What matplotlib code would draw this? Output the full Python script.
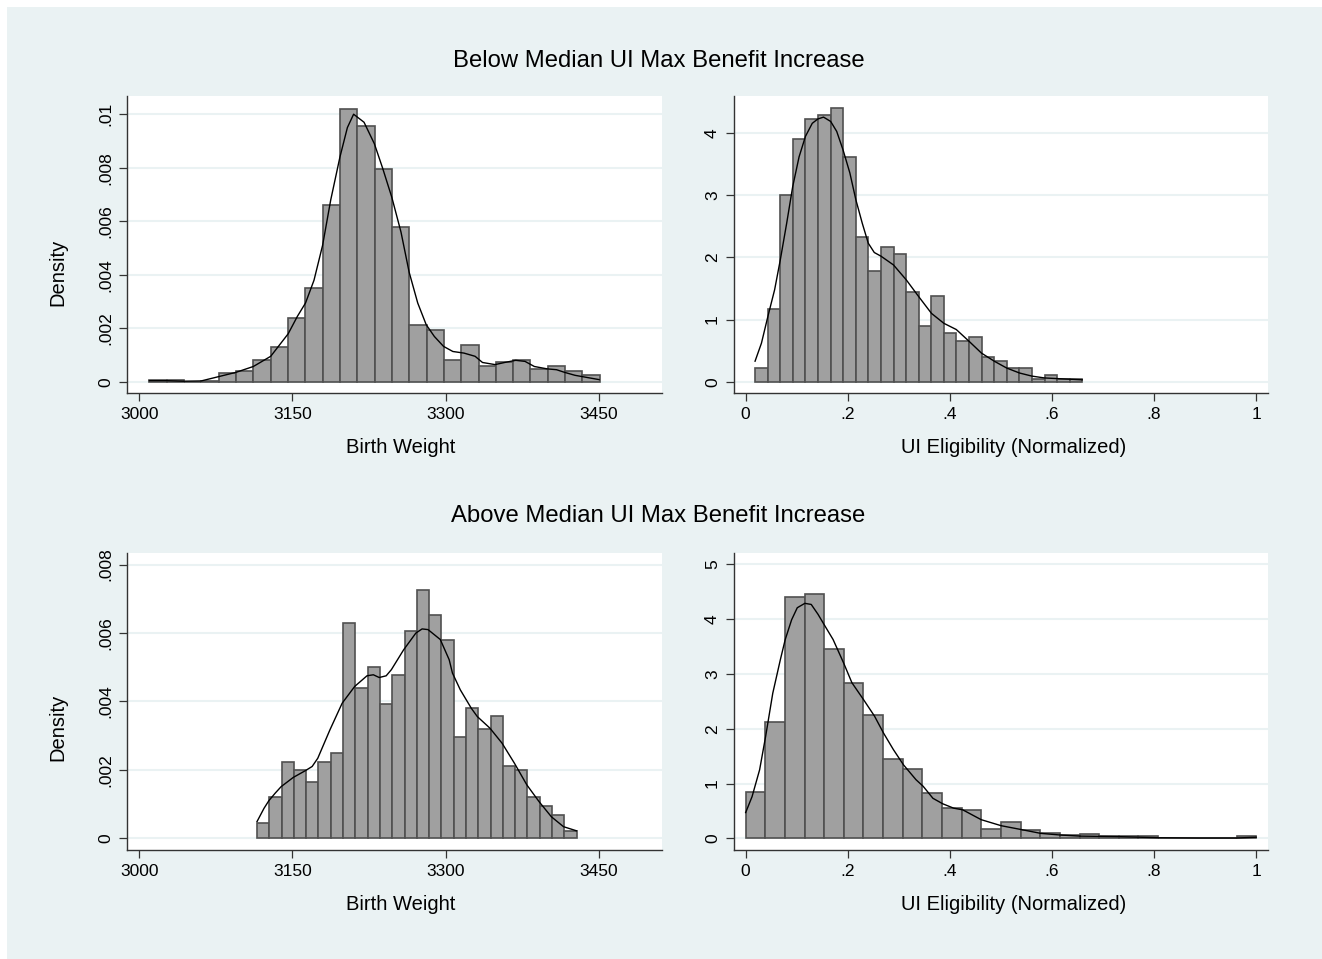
import matplotlib.pyplot as plt
from matplotlib.patches import Rectangle

plt.rcParams['font.family'] = ['Liberation Sans', 'DejaVu Sans']

# --- Below median: birth weight ---
bw_lo_start = 3009.8
bw_lo_width = 16.97
bw_lo_heights = [0.00006, 0.00006, 0.0, 0.00005, 0.00035, 0.0004, 0.00082, 0.0013,
                 0.00238, 0.0035, 0.0066, 0.0102, 0.00957, 0.00796, 0.00577, 0.00213,
                 0.00195, 0.00082, 0.00138, 0.0006, 0.00073, 0.00082, 0.00049, 0.0006,
                 0.0004, 0.00025]
bw_lo_kde_x = [3009.8, 3026.5, 3043.1, 3060.6, 3077.6, 3094.6, 3111.7, 3128.7, 3145.8,
               3154.8, 3162.8, 3171.1, 3179.5, 3187.5, 3196.5, 3203.8, 3209.9, 3220.1,
               3230.2, 3238.2, 3247.3, 3256.3, 3264.3, 3272.7, 3281.0, 3289.0, 3298.0,
               3307.1, 3318.0, 3328.9, 3336.1, 3348.4, 3357.9, 3368.7, 3377.8, 3386.9,
               3399.6, 3408.6, 3416.6, 3426.8, 3450.3]
bw_lo_kde_y = [0.00005, 0.00005, 0.00003, 0.00004, 0.0002, 0.00036, 0.00058, 0.00096,
               0.0018, 0.00245, 0.00295, 0.0038, 0.0051, 0.0068, 0.0084, 0.0095, 0.0100,
               0.0097, 0.0089, 0.0080, 0.0069, 0.0056, 0.0041, 0.00295, 0.00214, 0.0017,
               0.00133, 0.00114, 0.00108, 0.00096, 0.00073, 0.00065, 0.00073, 0.00081,
               0.00077, 0.00058, 0.00049, 0.00046, 0.00036, 0.00025, 0.00009]

# --- Below median: UI eligibility ---
ui_lo_start = 0.0184
ui_lo_width = 0.02465
ui_lo_heights = [0.22, 1.17, 3.01, 3.90, 4.23, 4.30, 4.40, 3.61, 2.33, 1.79, 2.17, 2.06,
                 1.45, 0.89, 1.38, 0.78, 0.66, 0.72, 0.39, 0.33, 0.22, 0.22, 0.04, 0.10,
                 0.05, 0.05]
ui_lo_kde_x = [0.0184, 0.0309, 0.0435, 0.0567, 0.0678, 0.0803, 0.0921, 0.1046, 0.1171,
               0.1304, 0.1414, 0.1525, 0.1665, 0.1783, 0.1908, 0.2041, 0.2158, 0.2284,
               0.2401, 0.2519, 0.2652, 0.2895, 0.3145, 0.3389, 0.3639, 0.3882, 0.4125,
               0.4376, 0.4619, 0.4869, 0.5112, 0.5363, 0.5606, 0.5856, 0.6099, 0.6350,
               0.6593]
ui_lo_kde_y = [0.33, 0.62, 1.05, 1.48, 1.96, 2.55, 3.14, 3.62, 3.95, 4.16, 4.23, 4.26,
               4.19, 4.03, 3.73, 3.36, 2.93, 2.55, 2.23, 2.08, 2.02, 1.88, 1.64, 1.37,
               1.10, 0.94, 0.84, 0.65, 0.46, 0.33, 0.22, 0.14, 0.09, 0.06, 0.05, 0.04,
               0.03]

# --- Above median: birth weight ---
bw_hi_start = 3115.3
bw_hi_width = 12.04
bw_hi_heights = [0.00046, 0.0012, 0.00224, 0.00201, 0.00166, 0.00224, 0.0025, 0.0063,
                 0.00438, 0.0050, 0.00392, 0.00476, 0.00607, 0.00725, 0.00652, 0.00581,
                 0.00296, 0.0038, 0.0032, 0.00357, 0.00212, 0.00201, 0.0012, 0.00094,
                 0.00069, 0.00022]
bw_hi_kde_x = [3115.3, 3122.2, 3126.9, 3133.1, 3138.9, 3150.8, 3162.8, 3169.3, 3174.8,
               3186.7, 3198.7, 3211.0, 3223.0, 3229.2, 3235.0, 3241.8, 3246.9, 3258.9,
               3270.9, 3277.0, 3282.8, 3294.8, 3303.5, 3306.7, 3314.4, 3325.2, 3331.0,
               3343.4, 3355.3, 3367.3, 3379.6, 3391.6, 3403.6, 3415.5, 3428.2]
bw_hi_kde_y = [0.00049, 0.00088, 0.0011, 0.00132, 0.00151, 0.00178, 0.00198, 0.0021,
               0.00234, 0.00317, 0.00395, 0.00444, 0.00475, 0.00478, 0.0047, 0.00475,
               0.00493, 0.00551, 0.006, 0.00612, 0.0061, 0.00581, 0.00522, 0.00483,
               0.00434, 0.0038, 0.00356, 0.00322, 0.00278, 0.0022, 0.00156, 0.00107,
               0.00063, 0.00034, 0.00022]

# --- Above median: UI eligibility ---
ui_hi_start = 0.0
ui_hi_width = 1 / 26
ui_hi_heights = [0.84, 2.12, 4.41, 4.46, 3.46, 2.83, 2.26, 1.445, 1.26, 0.82, 0.56, 0.51,
                 0.17, 0.29, 0.15, 0.10, 0.06, 0.07, 0.04, 0.05, 0.035, 0.01, 0.004,
                 0.004, 0.004, 0.035]
ui_hi_kde_x = [0.0, 0.0125, 0.0273, 0.0391, 0.0531, 0.0679, 0.0775, 0.0900, 0.1011,
               0.1159, 0.1284, 0.1417, 0.1557, 0.1712, 0.1919, 0.2081, 0.2310, 0.2524,
               0.2701, 0.2893, 0.3092, 0.3336, 0.3476, 0.3668, 0.3860, 0.4074, 0.4251,
               0.4613, 0.5004, 0.5395, 0.5779, 0.6162, 0.6546, 0.6937, 0.7321, 0.7705,
               0.8089, 0.8871, 0.9609, 1.0]
ui_hi_kde_y = [0.47, 0.76, 1.25, 1.86, 2.65, 3.26, 3.63, 3.99, 4.21, 4.29, 4.27, 4.09,
               3.87, 3.63, 3.2, 2.84, 2.53, 2.23, 1.92, 1.62, 1.34, 1.07, 0.95, 0.73,
               0.63, 0.55, 0.52, 0.34, 0.23, 0.16, 0.09, 0.06, 0.04, 0.035, 0.03, 0.02,
               0.01, 0.005, 0.005, 0.02]

bw_ticks = [3000, 3150, 3300, 3450]
bw_ticklabels = ['3000', '3150', '3300', '3450']
ui_ticks = [0, 0.2, 0.4, 0.6, 0.8, 1]
ui_ticklabels = ['0', '.2', '.4', '.6', '.8', '1']
dens_lo_ticks = [0, 0.002, 0.004, 0.006, 0.008, 0.01]
dens_lo_labels = ['0', '.002', '.004', '.006', '.008', '.01']
dens_hi_ticks = [0, 0.002, 0.004, 0.006, 0.008]
dens_hi_labels = ['0', '.002', '.004', '.006', '.008']
ui_lo_yticks = [0, 1, 2, 3, 4]
ui_hi_yticks = [0, 1, 2, 3, 4, 5]

BG = '#EAF2F3'
BAR = '#A0A0A0'
EDGE = '#505050'


def panel(ax, start, width, heights, kx, ky, xlim, ylim, xt, xtl, yt, ytl,
          xlabel, xlab_x, ylabel=None, ylab_y=0.41):
    ax.set_facecolor('white')
    lefts = [start + i * width for i in range(len(heights))]
    ax.bar(lefts, heights, width=width, align='edge', color=BAR,
           edgecolor=EDGE, linewidth=1.2, zorder=2)
    ax.plot(kx, ky, color='black', linewidth=1.0, zorder=3)
    ax.set_xlim(*xlim)
    ax.set_ylim(*ylim)
    ax.set_xticks(xt)
    ax.set_xticklabels(xtl)
    ax.set_yticks(yt)
    ax.set_yticklabels(ytl, rotation=90, va='center')
    ax.yaxis.grid(True, color=BG, linewidth=1.5, zorder=0)
    ax.set_axisbelow(True)
    for s in ['top', 'right']:
        ax.spines[s].set_visible(False)
    for s in ['left', 'bottom']:
        ax.spines[s].set_color('#333333')
        ax.spines[s].set_linewidth(1.0)
    ax.tick_params(length=6, width=0.9, color='#333333', labelsize=12.5, pad=4)
    ax.set_xlabel(xlabel, fontsize=14.5)
    ax.xaxis.label.set_verticalalignment('center')
    ax.xaxis.set_label_coords(xlab_x, -0.182)
    if ylabel:
        ax.set_ylabel(ylabel, fontsize=14.5)
        ax.yaxis.label.set_verticalalignment('center')
        ax.yaxis.set_label_coords(-0.129, ylab_y)


fig = plt.figure(figsize=(13.22, 9.59), dpi=100)
fig.patch.set_facecolor('white')
fig.patches.append(Rectangle((7 / 1322, 0), 1, 1 - 7 / 959, transform=fig.transFigure,
                             facecolor=BG, edgecolor='none', zorder=-10))

ax1 = fig.add_axes([0.0961, 0.5902, 0.4047, 0.3097])
ax2 = fig.add_axes([0.5552, 0.5902, 0.4039, 0.3097])
ax3 = fig.add_axes([0.0961, 0.1137, 0.4047, 0.3097])
ax4 = fig.add_axes([0.5552, 0.1137, 0.4039, 0.3097])

panel(ax1, bw_lo_start, bw_lo_width, bw_lo_heights, bw_lo_kde_x, bw_lo_kde_y,
      (2988, 3512), (-0.00041, 0.01068), bw_ticks, bw_ticklabels,
      dens_lo_ticks, dens_lo_labels, 'Birth Weight', 0.512, 'Density', 0.406)
panel(ax2, ui_lo_start, ui_lo_width, ui_lo_heights, ui_lo_kde_x, ui_lo_kde_y,
      (-0.0229, 1.0229), (-0.182, 4.60), ui_ticks, ui_ticklabels,
      ui_lo_yticks, [str(v) for v in ui_lo_yticks], 'UI Eligibility (Normalized)', 0.524)
panel(ax3, bw_hi_start, bw_hi_width, bw_hi_heights, bw_hi_kde_x, bw_hi_kde_y,
      (2988, 3512), (-0.00034, 0.00834), bw_ticks, bw_ticklabels,
      dens_hi_ticks, dens_hi_labels, 'Birth Weight', 0.512, 'Density', 0.414)
panel(ax4, ui_hi_start, ui_hi_width, ui_hi_heights, ui_hi_kde_x, ui_hi_kde_y,
      (-0.0229, 1.0229), (-0.213, 5.21), ui_ticks, ui_ticklabels,
      ui_hi_yticks, [str(v) for v in ui_hi_yticks], 'UI Eligibility (Normalized)', 0.524)

fig.text(0.498, 0.936, 'Below Median UI Max Benefit Increase', fontsize=17.2,
         ha='center', va='center')
fig.text(0.498, 0.462, 'Above Median UI Max Benefit Increase', fontsize=17.2,
         ha='center', va='center')

fig.savefig('out.png', dpi=100)
